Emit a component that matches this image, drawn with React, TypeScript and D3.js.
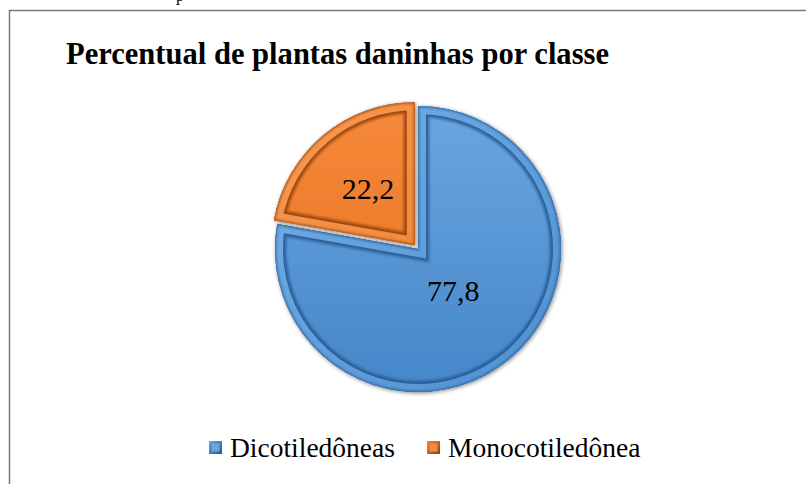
import React from "react";
import * as d3 from "d3";

const categories = ["Dicotiledôneas", "Monocotiledônea"];
const values = [77.8, 22.2];
const valueLabels = ["77,8", "22,2"];
const title = "Percentual de plantas daninhas por classe";

const W = 806;
const H = 484;
const cx = 418;
const cy = 249;
const R = 143;
const explode = [0, 5];
const labelR = [55, 73];
const bevel = 8;

const fills = [
  { top: "#6aa6e0", bottom: "#4586c9", rimTop: "#74afe6", rimBottom: "#4f8fd0", dark: "#25588f" },
  { top: "#f6893a", bottom: "#e56f1c", rimTop: "#f99a52", rimBottom: "#e87a2a", dark: "#8f3f0a" },
];

export default function App() {
  const pie = d3
    .pie<number>()
    .sort(null)
    .startAngle(0)
    .endAngle(2 * Math.PI)
    .value((d) => d);
  const arcs = pie(values);
  const arc = d3.arc<d3.PieArcDatum<number>>().innerRadius(0).outerRadius(R);

  return (
    <svg
      width={W}
      height={H}
      style={{ position: "absolute", left: 0, top: 0, background: "#fff" }}
      fontFamily="'Liberation Serif', 'Times New Roman', serif"
    >
      <defs>
        {fills.map((f, i) => (
          <React.Fragment key={i}>
            <linearGradient id={`g${i}`} gradientUnits="userSpaceOnUse" x1={0} y1={-R} x2={0} y2={R}>
              <stop offset="0" stopColor={f.top} />
              <stop offset="1" stopColor={f.bottom} />
            </linearGradient>
            <linearGradient id={`r${i}`} gradientUnits="userSpaceOnUse" x1={-R} y1={-R} x2={R} y2={R}>
              <stop offset="0" stopColor={f.rimTop} />
              <stop offset="1" stopColor={f.rimBottom} />
            </linearGradient>
            <linearGradient id={`lg${i}`} x1="0" y1="0" x2="1" y2="1">
              <stop offset="0" stopColor={f.top} />
              <stop offset="1" stopColor={f.dark} />
            </linearGradient>
          </React.Fragment>
        ))}
        <filter id="shadow" x="-20%" y="-20%" width="140%" height="140%">
          <feGaussianBlur in="SourceAlpha" stdDeviation="2" />
          <feOffset dx="1" dy="1" result="b" />
          <feComponentTransfer>
            <feFuncA type="linear" slope="0.5" />
          </feComponentTransfer>
          <feMerge>
            <feMergeNode />
            <feMergeNode in="SourceGraphic" />
          </feMerge>
        </filter>
        <filter id="soft" x="-20%" y="-20%" width="140%" height="140%">
          <feGaussianBlur stdDeviation="1.3" />
        </filter>
        <filter id="soft2" x="-20%" y="-20%" width="140%" height="140%">
          <feGaussianBlur stdDeviation="0.8" />
        </filter>
        {arcs.map((a, i) => (
          <clipPath key={i} id={`clip${i}`}>
            <path d={arc(a) || ""} />
          </clipPath>
        ))}
      </defs>

      {/* outer frame */}
      <path d={`M9.5,${H} V10.5 H${W}`} fill="none" stroke="#7a7a7a" strokeWidth={1.5} />
      {/* cut-off text above */}
      <text x={176} y={1} fontSize={16}>p</text>

      <text
        x={66}
        y={64}
        fontSize={31}
        fontWeight="bold"
        textLength={543}
        lengthAdjust="spacingAndGlyphs"
        fill="#000"
      >
        {title}
      </text>

      {arcs.map((a, i) => {
        const mid = (a.startAngle + a.endAngle) / 2;
        const dx = explode[i] * Math.sin(mid);
        const dy = -explode[i] * Math.cos(mid);
        const f = fills[i];
        const d = arc(a) || "";
        return (
          <g key={i} transform={`translate(${cx + dx},${cy + dy})`}>
            <path d={d} fill={`url(#g${i})`} filter="url(#shadow)" />
            <g clipPath={`url(#clip${i})`}>
              <path
                d={d}
                fill="none"
                stroke={f.dark}
                strokeWidth={bevel * 2 + 7}
                strokeLinejoin="miter"
                opacity={0.55}
                filter="url(#soft)"
              />
              <path
                d={d}
                fill="none"
                stroke={f.dark}
                strokeWidth={bevel * 2 + 3}
                strokeLinejoin="miter"
                opacity={0.85}
                filter="url(#soft2)"
              />
              <path
                d={d}
                fill="none"
                stroke={`url(#r${i})`}
                strokeWidth={bevel * 2}
                strokeLinejoin="miter"
              />
              <path d={d} fill="none" stroke={f.dark} strokeWidth={2.5} opacity={0.7} filter="url(#soft2)" />
            </g>
          </g>
        );
      })}

      {arcs.map((a, i) => {
        const mid = (a.startAngle + a.endAngle) / 2;
        const dx = explode[i] * Math.sin(mid);
        const dy = -explode[i] * Math.cos(mid);
        const la = d3
          .arc<d3.PieArcDatum<number>>()
          .innerRadius(labelR[i])
          .outerRadius(labelR[i]);
        const [lx, ly] = la.centroid(a);
        return (
          <text
            key={i}
            x={cx + dx + lx}
            y={cy + dy + ly + 10}
            fontSize={30}
            textAnchor="middle"
            fill="#000"
          >
            {valueLabels[i]}
          </text>
        );
      })}

      {/* legend */}
      {categories.map((c, i) => {
        const lx = [209, 427][i];
        const f = fills[i];
        return (
          <g key={c}>
            <rect x={lx} y={441} width={13} height={13} fill={`url(#lg${i})`} />
            <rect x={lx + 2.5} y={443.5} width={8} height={8} fill={f.top} />
            <text x={lx + 21} y={457} fontSize={27.5} fill="#000">
              {c}
            </text>
          </g>
        );
      })}
    </svg>
  );
}
